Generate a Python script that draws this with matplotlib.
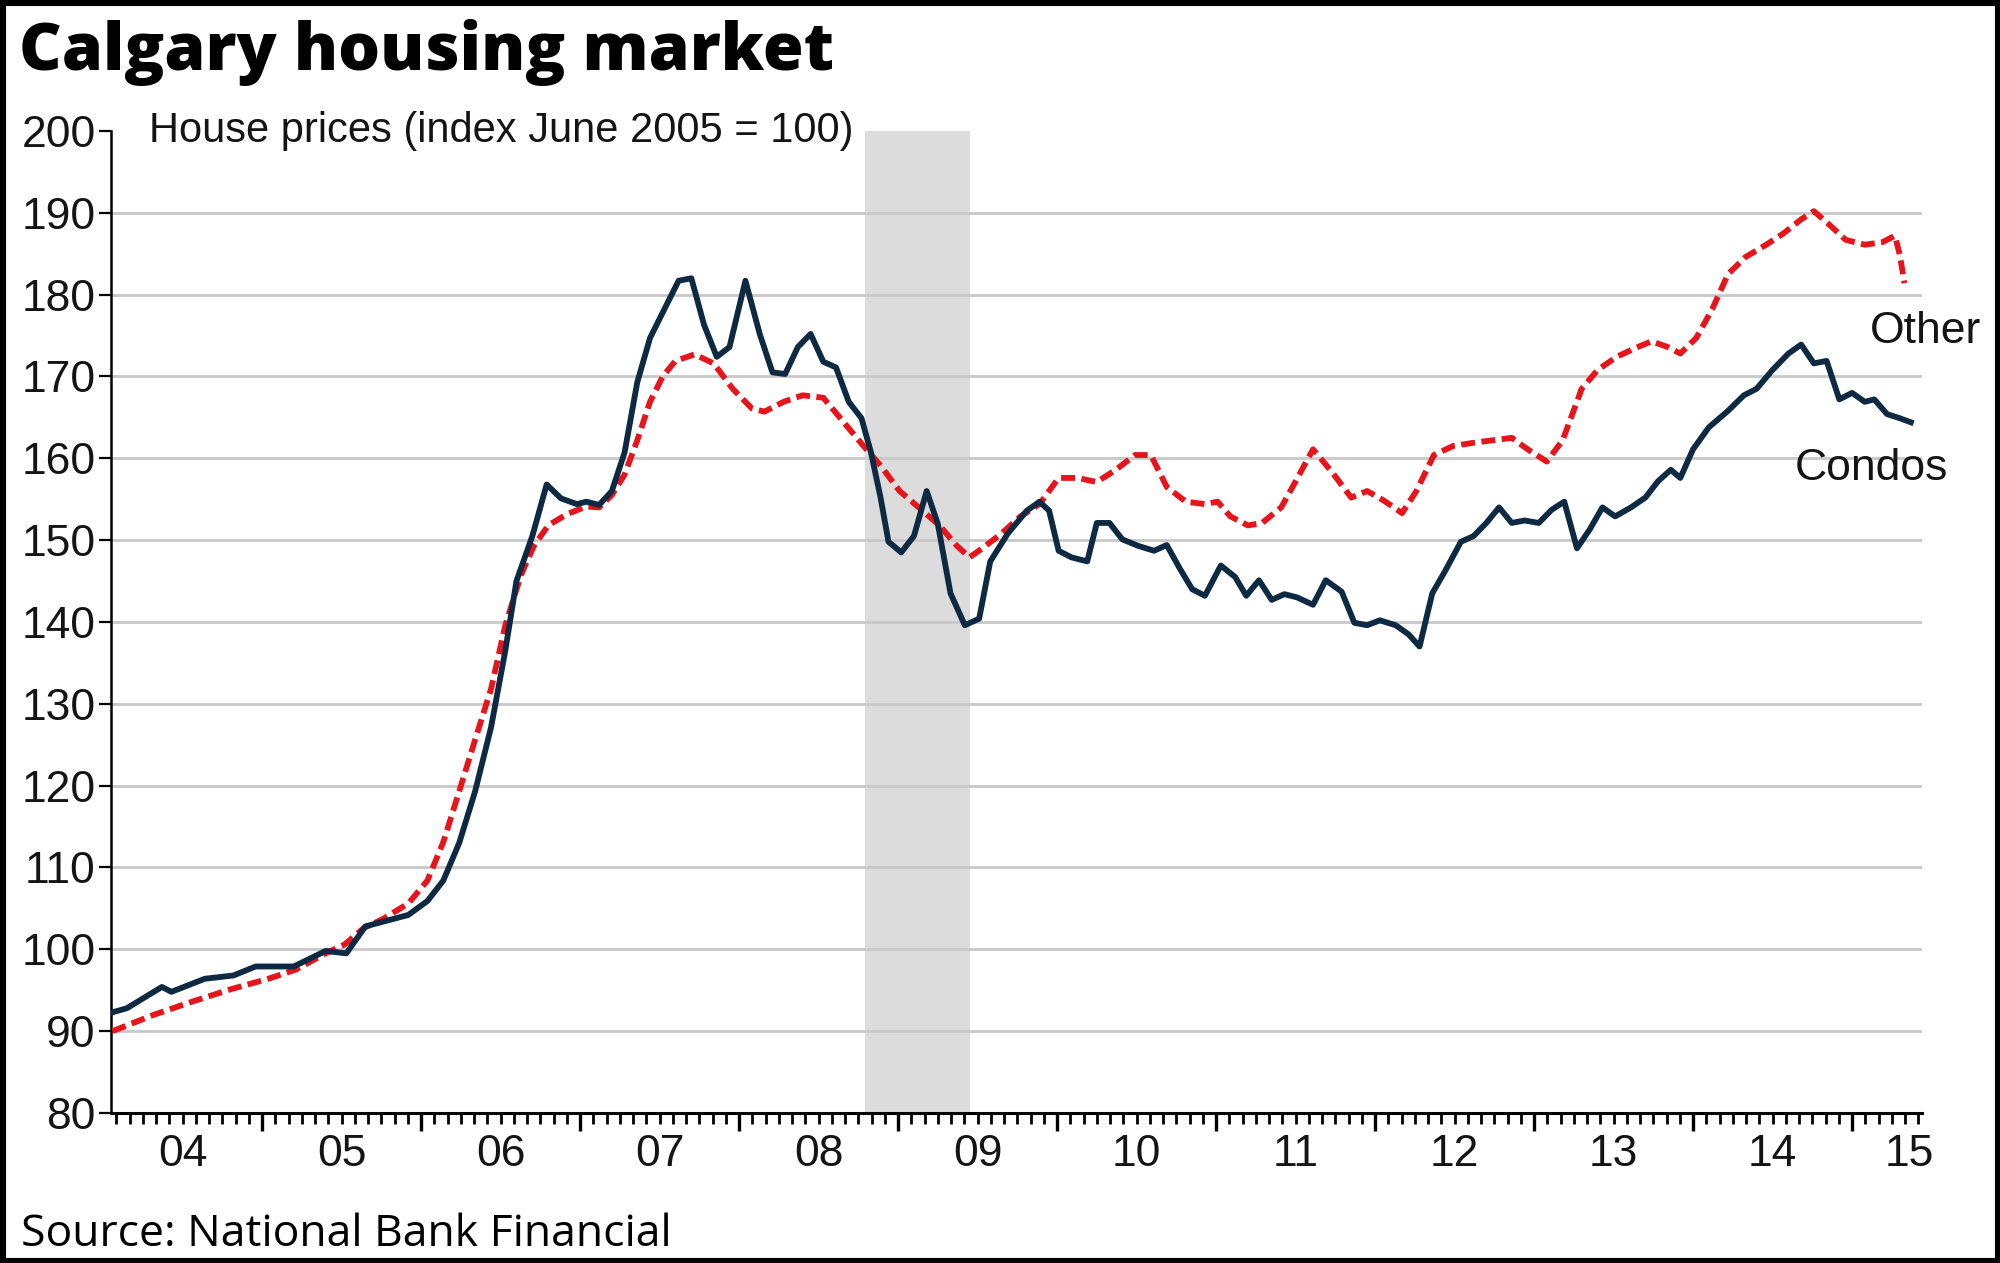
import matplotlib
matplotlib.use("Agg")
import matplotlib.pyplot as plt
from matplotlib.patches import Rectangle

plt.rcParams["font.family"] = ["Liberation Sans", "DejaVu Sans"]

# house price index, June 2005 = 100 (dates as decimal years)
condo_dates = [2004.06, 2004.15, 2004.37, 2004.43, 2004.64, 2004.82, 2004.96, 2005.2, 2005.4, 2005.53,
               2005.65, 2005.92, 2006.04, 2006.14, 2006.24, 2006.34, 2006.44, 2006.53, 2006.6, 2006.7,
               2006.79, 2006.88, 2006.98, 2007.04, 2007.12, 2007.2, 2007.28, 2007.36, 2007.44, 2007.54,
               2007.62, 2007.7, 2007.78, 2007.86, 2007.94, 2008.04, 2008.13, 2008.21, 2008.29, 2008.37,
               2008.45, 2008.53, 2008.61, 2008.69, 2008.77, 2008.83, 2008.89, 2008.94, 2009.02, 2009.1,
               2009.18, 2009.25, 2009.33, 2009.42, 2009.51, 2009.58, 2009.69, 2009.81, 2009.89, 2009.95,
               2010.01, 2010.09, 2010.19, 2010.25, 2010.33, 2010.41, 2010.51, 2010.61, 2010.69, 2010.77,
               2010.85, 2010.93, 2011.03, 2011.12, 2011.19, 2011.27, 2011.35, 2011.43, 2011.51, 2011.61,
               2011.69, 2011.79, 2011.87, 2011.95, 2012.03, 2012.13, 2012.21, 2012.28, 2012.36, 2012.44,
               2012.54, 2012.62, 2012.7, 2012.78, 2012.86, 2012.94, 2013.03, 2013.11, 2013.19, 2013.27,
               2013.35, 2013.43, 2013.51, 2013.61, 2013.7, 2013.78, 2013.86, 2013.92, 2014.0, 2014.1,
               2014.22, 2014.32, 2014.4, 2014.5, 2014.6, 2014.68, 2014.76, 2014.84, 2014.92, 2015.0,
               2015.08, 2015.14, 2015.22, 2015.3, 2015.37]
condos = [92.3, 92.8, 95.4, 94.8, 96.4, 96.8, 97.9, 97.9, 99.8, 99.5,
          102.8, 104.2, 105.9, 108.4, 113.0, 119.3, 127.1, 136.5, 145.0, 150.5,
          156.8, 155.1, 154.4, 154.7, 154.3, 156.0, 160.7, 169.3, 174.7, 178.6,
          181.7, 182.0, 176.3, 172.4, 173.6, 181.7, 175.2, 170.5, 170.3, 173.6,
          175.2, 171.8, 171.1, 166.9, 164.9, 160.7, 155.2, 149.8, 148.5, 150.5,
          156.0, 152.0, 143.5, 139.6, 140.4, 147.4, 150.8, 153.6, 154.7, 153.6,
          148.7, 147.9, 147.4, 152.1, 152.1, 150.1, 149.3, 148.7, 149.4, 146.6,
          144.0, 143.2, 146.9, 145.5, 143.2, 145.1, 142.7, 143.4, 143.0, 142.1,
          145.1, 143.7, 139.9, 139.6, 140.2, 139.6, 138.5, 137.0, 143.5, 146.2,
          149.8, 150.5, 152.1, 154.0, 152.1, 152.4, 152.1, 153.7, 154.7, 149.0,
          151.3, 154.0, 152.9, 154.0, 155.2, 157.2, 158.6, 157.6, 161.1, 163.8,
          165.8, 167.7, 168.5, 170.8, 172.8, 173.9, 171.6, 171.9, 167.2, 168.0,
          166.9, 167.2, 165.4, 164.9, 164.4]

other_dates = [2004.06, 2004.32, 2004.56, 2004.8, 2005.04, 2005.21, 2005.4, 2005.52, 2005.64, 2005.76,
               2005.92, 2006.04, 2006.14, 2006.24, 2006.34, 2006.44, 2006.53, 2006.63, 2006.71, 2006.8,
               2006.92, 2007.04, 2007.12, 2007.2, 2007.28, 2007.36, 2007.44, 2007.52, 2007.6, 2007.72,
               2007.84, 2007.96, 2008.08, 2008.16, 2008.28, 2008.4, 2008.53, 2008.65, 2008.77, 2008.89,
               2009.01, 2009.13, 2009.26, 2009.37, 2009.45, 2009.53, 2009.65, 2009.77, 2009.89, 2010.01,
               2010.13, 2010.25, 2010.37, 2010.49, 2010.59, 2010.69, 2010.81, 2010.93, 2011.01, 2011.09,
               2011.2, 2011.29, 2011.41, 2011.49, 2011.61, 2011.73, 2011.85, 2011.95, 2012.05, 2012.17,
               2012.26, 2012.37, 2012.49, 2012.62, 2012.74, 2012.86, 2012.96, 2013.08, 2013.18, 2013.3,
               2013.4, 2013.52, 2013.64, 2013.74, 2013.84, 2013.92, 2014.02, 2014.12, 2014.22, 2014.33,
               2014.46, 2014.57, 2014.68, 2014.76, 2014.86, 2014.96, 2015.08, 2015.19, 2015.27, 2015.3,
               2015.33]
other = [90.0, 92.0, 93.6, 95.1, 96.4, 97.5, 99.5, 100.6, 102.6, 103.7,
         105.6, 108.4, 113.1, 119.3, 125.6, 131.8, 139.6, 145.8, 149.3, 151.8,
         153.2, 154.1, 154.0, 155.5, 158.0, 162.2, 166.9, 170.0, 171.9, 172.7,
         171.6, 168.5, 166.1, 165.7, 166.9, 167.7, 167.4, 164.6, 161.8, 159.1,
         156.0, 154.0, 151.8, 149.3, 147.9, 149.0, 150.8, 152.9, 154.4, 157.6,
         157.6, 157.1, 158.6, 160.4, 160.4, 156.5, 154.7, 154.4, 154.7, 152.9,
         151.8, 152.1, 154.0, 156.8, 161.1, 158.3, 155.2, 156.0, 154.9, 153.3,
         156.0, 160.4, 161.5, 161.9, 162.2, 162.5, 161.1, 159.6, 162.2, 168.5,
         170.8, 172.4, 173.5, 174.3, 173.6, 172.8, 174.7, 178.2, 182.5, 184.6,
         186.1, 187.5, 189.2, 190.2, 188.5, 186.7, 186.1, 186.4, 187.2, 184.9,
         181.4]

recession = (2008.79, 2009.45)
years = ["04", "05", "06", "07", "08", "09", "10", "11", "12", "13", "14", "15"]
year_label_pos = [2004.5, 2005.5, 2006.5, 2007.5, 2008.5, 2009.5, 2010.5, 2011.5,
                  2012.5, 2013.5, 2014.5, 2015.36]
grid_levels = [90, 100, 110, 120, 130, 140, 150, 160, 170, 180, 190]
y_ticks = [80, 90, 100, 110, 120, 130, 140, 150, 160, 170, 180, 190, 200]

navy = "#0e2a42"
red = "#e8141c"
txt = "#141414"

fig = plt.figure(figsize=(20, 12.63), dpi=100)
ax = fig.add_axes([0.0555, 0.1188, 0.9055, 0.7775])
ax.set_xlim(2004.05, 2015.44)
ax.set_ylim(80, 200)

ax.axvspan(recession[0], recession[1], color="#dcdcdc", lw=0, zorder=0)
ax.hlines(grid_levels, 2004.05, 2015.44, color="#c8c8c8", lw=2.0, zorder=1)

ax.plot(other_dates, other, color=red, lw=4.2, linestyle=(0, (2.4, 1.1)), zorder=3)
ax.plot(condo_dates, condos, color=navy, lw=4.2, zorder=4)

for s in ["top", "right"]:
    ax.spines[s].set_visible(False)
ax.spines["left"].set_linewidth(1.8)
ax.spines["bottom"].set_linewidth(2.2)

ax.set_yticks(y_ticks)
ax.set_yticklabels([str(v) for v in y_ticks], fontsize=32, color=txt)
ax.tick_params(axis="y", length=9, width=1.6, pad=2)

# year ticks on Jan, monthly minor ticks, labels centred on each year
ax.set_xticks(list(range(2005, 2016)))
ax.set_xticklabels([])
ax.set_xticks([2004 + m / 12 for m in range(1, 12 * 12 - 6)], minor=True)
ax.tick_params(axis="x", which="major", length=13, width=2.4)
ax.tick_params(axis="x", which="minor", length=8, width=2.0)
for yl, pos in zip(years, year_label_pos):
    ax.text(pos, 77.4, yl, ha="center", va="top", fontsize=32, color=txt)

ax.text(2004.29, 200, "House prices (index June 2005 = 100)", ha="left", va="center",
        fontsize=30, color=txt)
ax.text(2015.11, 175.5, "Other", ha="left", va="center", fontsize=32, color=txt, clip_on=False)
ax.text(2014.64, 158.8, "Condos", ha="left", va="center", fontsize=32, color=txt, clip_on=False)

fig.text(0.0095, 0.9446, "Calgary housing market", ha="left", va="baseline",
         fontsize=47.5, fontweight=800, family="Open Sans", color="black")
fig.text(0.0105, 0.0135, "Source: National Bank Financial", ha="left", va="baseline",
         fontsize=32, family="Open Sans", color="black")

fig.patches.append(Rectangle((0, 0), 1, 1, transform=fig.transFigure, fill=False,
                             edgecolor="black", lw=8, zorder=10))

fig.savefig("out.png", dpi=100)
